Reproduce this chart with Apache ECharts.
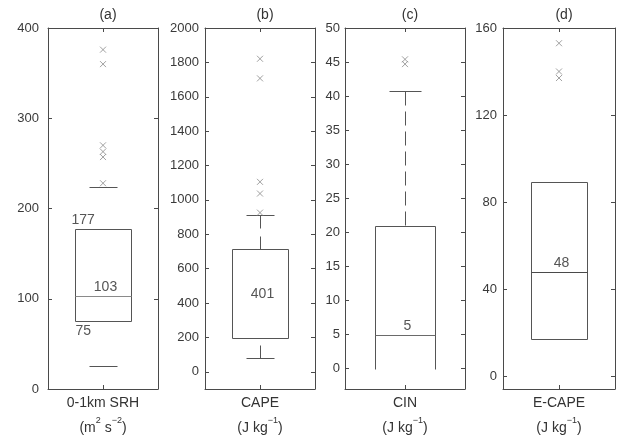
<!DOCTYPE html>
<html>
<head>
<meta charset="utf-8">
<script src="https://cdn.jsdelivr.net/npm/echarts@6/dist/echarts.min.js"></script>
<style>
  html, body { margin: 0; background: #fff; }
  #chart { width: 617px; height: 440px; }
</style>
</head>
<body>
<div id="chart"></div>
<script>
// ── 数据 ──
const panelTags = ['(a)', '(b)', '(c)', '(d)'];
const categories = ['0-1km SRH', 'CAPE', 'CIN', 'E-CAPE'];
const unitLabels = [
  '{n|(m}{s|2}{n| s}{s|−2}{n|)}',
  '{n|(J kg}{s|−1}{n|)}',
  '{n|(J kg}{s|−1}{n|)}',
  '{n|(J kg}{s|−1}{n|)}',
];
// [下须, Q1, 中位数, Q3, 上须]
const srhStats   = [26, 75, 103, 177, 224];
const capeStats  = [79, 196, 401, 713, 911];
const cinStats   = [0, 0, 5, 21, 40.8];
const ecapeStats = [null, 17, 48, 89, null];
const srhOutliers   = [376, 360, 270, 263, 257, 228];
const capeOutliers  = [1821, 1707, 1105, 1037, 926];
const cinOutliers   = [45.4, 44.7];
const ecapeOutliers = [153, 140, 137];
// y 轴范围与刻度
const yMin = [0, -100, -3, -6];
const yMax = [400, 2000, 50, 160];
const srhTicks   = [0, 100, 200, 300, 400];
const capeTicks  = [0, 200, 400, 600, 800, 1000, 1200, 1400, 1600, 1800, 2000];
const cinTicks   = [0, 5, 10, 15, 20, 25, 30, 35, 40, 45, 50];
const ecapeTicks = [0, 40, 80, 120, 160];

const stats = [srhStats, capeStats, cinStats, ecapeStats];
const outliers = [srhOutliers, capeOutliers, cinOutliers, ecapeOutliers];
const ticks = [srhTicks, capeTicks, cinTicks, ecapeTicks];

// ── 版式（每个子图） ──
const grids = [
  { left: 48,  top: 28, width: 110, height: 361 },
  { left: 205, top: 28, width: 110, height: 361 },
  { left: 345, top: 28, width: 120, height: 361 },
  { left: 503, top: 28, width: 112, height: 361 },
];
const styleCfg = [
  { whisker: null,    median: '#8a8a8a', quartLabels: true,  openBottom: false, labelMargin: 9 },
  { whisker: [13, 8], median: null,      quartLabels: false, openBottom: false, labelMargin: 6 },
  { whisker: [14, 6], median: '#6a6a6a', quartLabels: false, openBottom: true,  labelMargin: 5 },
  { whisker: null,    median: '#4a4a4a', quartLabels: false, openBottom: false, labelMargin: 6 },
];

const FONT = '"Liberation Sans", Arial, Helvetica, sans-serif';
const AXIS = '#4a4a4a';
const BOX = '#555555';
const crisp = v => Math.round(v) + 0.5;

function boxRender(p) {
  const [lo, q1, med, q3, hi] = stats[p];
  const cfg = styleCfg[p];
  return function (params, api) {
    const band = api.size([1, 0])[0];
    const cx = crisp(api.coord([0, 0])[0]);
    const y = v => crisp(api.coord([0, v])[1]);
    const hw = Math.round(band * 0.25), cw = Math.round(band * 0.13);
    const line = (x1, y1, x2, y2, extra) => ({
      type: 'line', shape: { x1, y1, x2, y2 },
      style: Object.assign({ stroke: BOX, lineWidth: 1 }, extra || {}),
    });
    const text = (t, x, yy, align, vAlign) => ({
      type: 'text',
      style: { text: t, x, y: yy, align, verticalAlign: vAlign, fill: '#555', font: '14px ' + FONT },
    });
    const kids = [];
    const l = cx - hw, r = cx + hw, yt = y(q3), yb = y(q1);
    const pts = cfg.openBottom
      ? [[l, yb], [l, yt], [r, yt], [r, yb]]
      : [[l, yb], [l, yt], [r, yt], [r, yb], [l, yb]];
    kids.push({ type: 'polyline', shape: { points: pts }, style: { stroke: BOX, fill: null, lineWidth: 1 } });
    if (cfg.median) kids.push(line(l, y(med), r, y(med), { stroke: cfg.median }));
    // 上须
    if (hi != null && hi > q3) {
      kids.push(line(cx - cw, y(hi), cx + cw, y(hi)));
      if (cfg.whisker) kids.push(line(cx, y(hi), cx, yt, { lineDash: cfg.whisker }));
    }
    // 下须
    if (lo != null && lo < q1) {
      kids.push(line(cx - cw, y(lo), cx + cw, y(lo)));
      if (cfg.whisker) kids.push(line(cx, y(lo), cx, yb, { lineDash: cfg.whisker }));
    }
    kids.push(text(String(Math.round(med)), cx + 2, y(med) - 2, 'center', 'bottom'));
    if (cfg.quartLabels) {
      kids.push(text(String(Math.round(q3)), l - 4, yt - 2, 'left', 'bottom'));
      kids.push(text(String(Math.round(q1)), l, yb + 3, 'left', 'top'));
    }
    // x 轴中心刻度（上、下，朝内）
    const yTop = crisp(api.coord([0, yMax[p]])[1]) - 0.5, yBot = crisp(api.coord([0, yMin[p]])[1]) - 0.5;
    kids.push(line(cx, yTop, cx, yTop + 4, { stroke: AXIS }));
    kids.push(line(cx, yBot, cx, yBot - 4, { stroke: AXIS }));
    return { type: 'group', children: kids };
  };
}

const xAxes = [], yAxes = [], series = [], titles = [];
grids.forEach((g, p) => {
  const baseX = {
    gridIndex: p, type: 'category', data: [categories[p]],
    axisLine: { onZero: false, lineStyle: { color: AXIS, width: 1 } },
    axisTick: { show: false },
    splitLine: { show: false },
  };
  xAxes.push(Object.assign({}, baseX, {
    position: 'bottom',
    axisLabel: {
      margin: 2, interval: 0,
      formatter: v => '{n|' + v + '}\n' + unitLabels[p],
      rich: {
        n: { fontSize: 14, lineHeight: 25, color: '#333', fontFamily: FONT },
        s: { fontSize: 9, lineHeight: 17, verticalAlign: 'top', color: '#333', fontFamily: FONT },
      },
    },
  }));
  xAxes.push(Object.assign({}, baseX, { position: 'top', axisLabel: { show: false } }));
  const baseY = {
    gridIndex: p, type: 'value', min: yMin[p], max: yMax[p],
    axisLine: { show: true, onZero: false, lineStyle: { color: AXIS, width: 1 } },
    axisTick: { show: true, inside: true, length: 4, customValues: ticks[p], lineStyle: { color: AXIS } },
    splitLine: { show: false },
  };
  yAxes.push(Object.assign({}, baseY, {
    position: 'left',
    axisLabel: {
      customValues: ticks[p], margin: styleCfg[p].labelMargin,
      formatter: v => String(v),
      color: '#3a3a3a', fontSize: 13, fontFamily: FONT,
    },
  }));
  yAxes.push(Object.assign({}, baseY, { position: 'right', axisLabel: { show: false } }));

  series.push({
    type: 'custom', xAxisIndex: p * 2, yAxisIndex: p * 2,
    data: [[0, stats[p][2]]], renderItem: boxRender(p), silent: true, z: 3,
    clip: false,
  });
  series.push({
    type: 'scatter', xAxisIndex: p * 2, yAxisIndex: p * 2,
    data: outliers[p].map(v => [0, v]),
    symbol: 'path://M0,0L10,10M10,0L0,10', symbolSize: 6,
    itemStyle: { color: 'none', borderColor: '#8a8a8a', borderWidth: 1 },
    silent: true, z: 4,
  });
  titles.push({
    text: panelTags[p], left: g.left + g.width / 2, top: 3, textAlign: 'center',
    textStyle: { fontSize: 14, fontWeight: 'normal', color: '#333', fontFamily: FONT },
  });
});

const chart = echarts.init(document.getElementById('chart'), null, { renderer: 'canvas' });
chart.setOption({
  animation: false,
  backgroundColor: '#fff',
  title: titles,
  grid: grids,
  xAxis: xAxes,
  yAxis: yAxes,
  series,
});
</script>
</body>
</html>
